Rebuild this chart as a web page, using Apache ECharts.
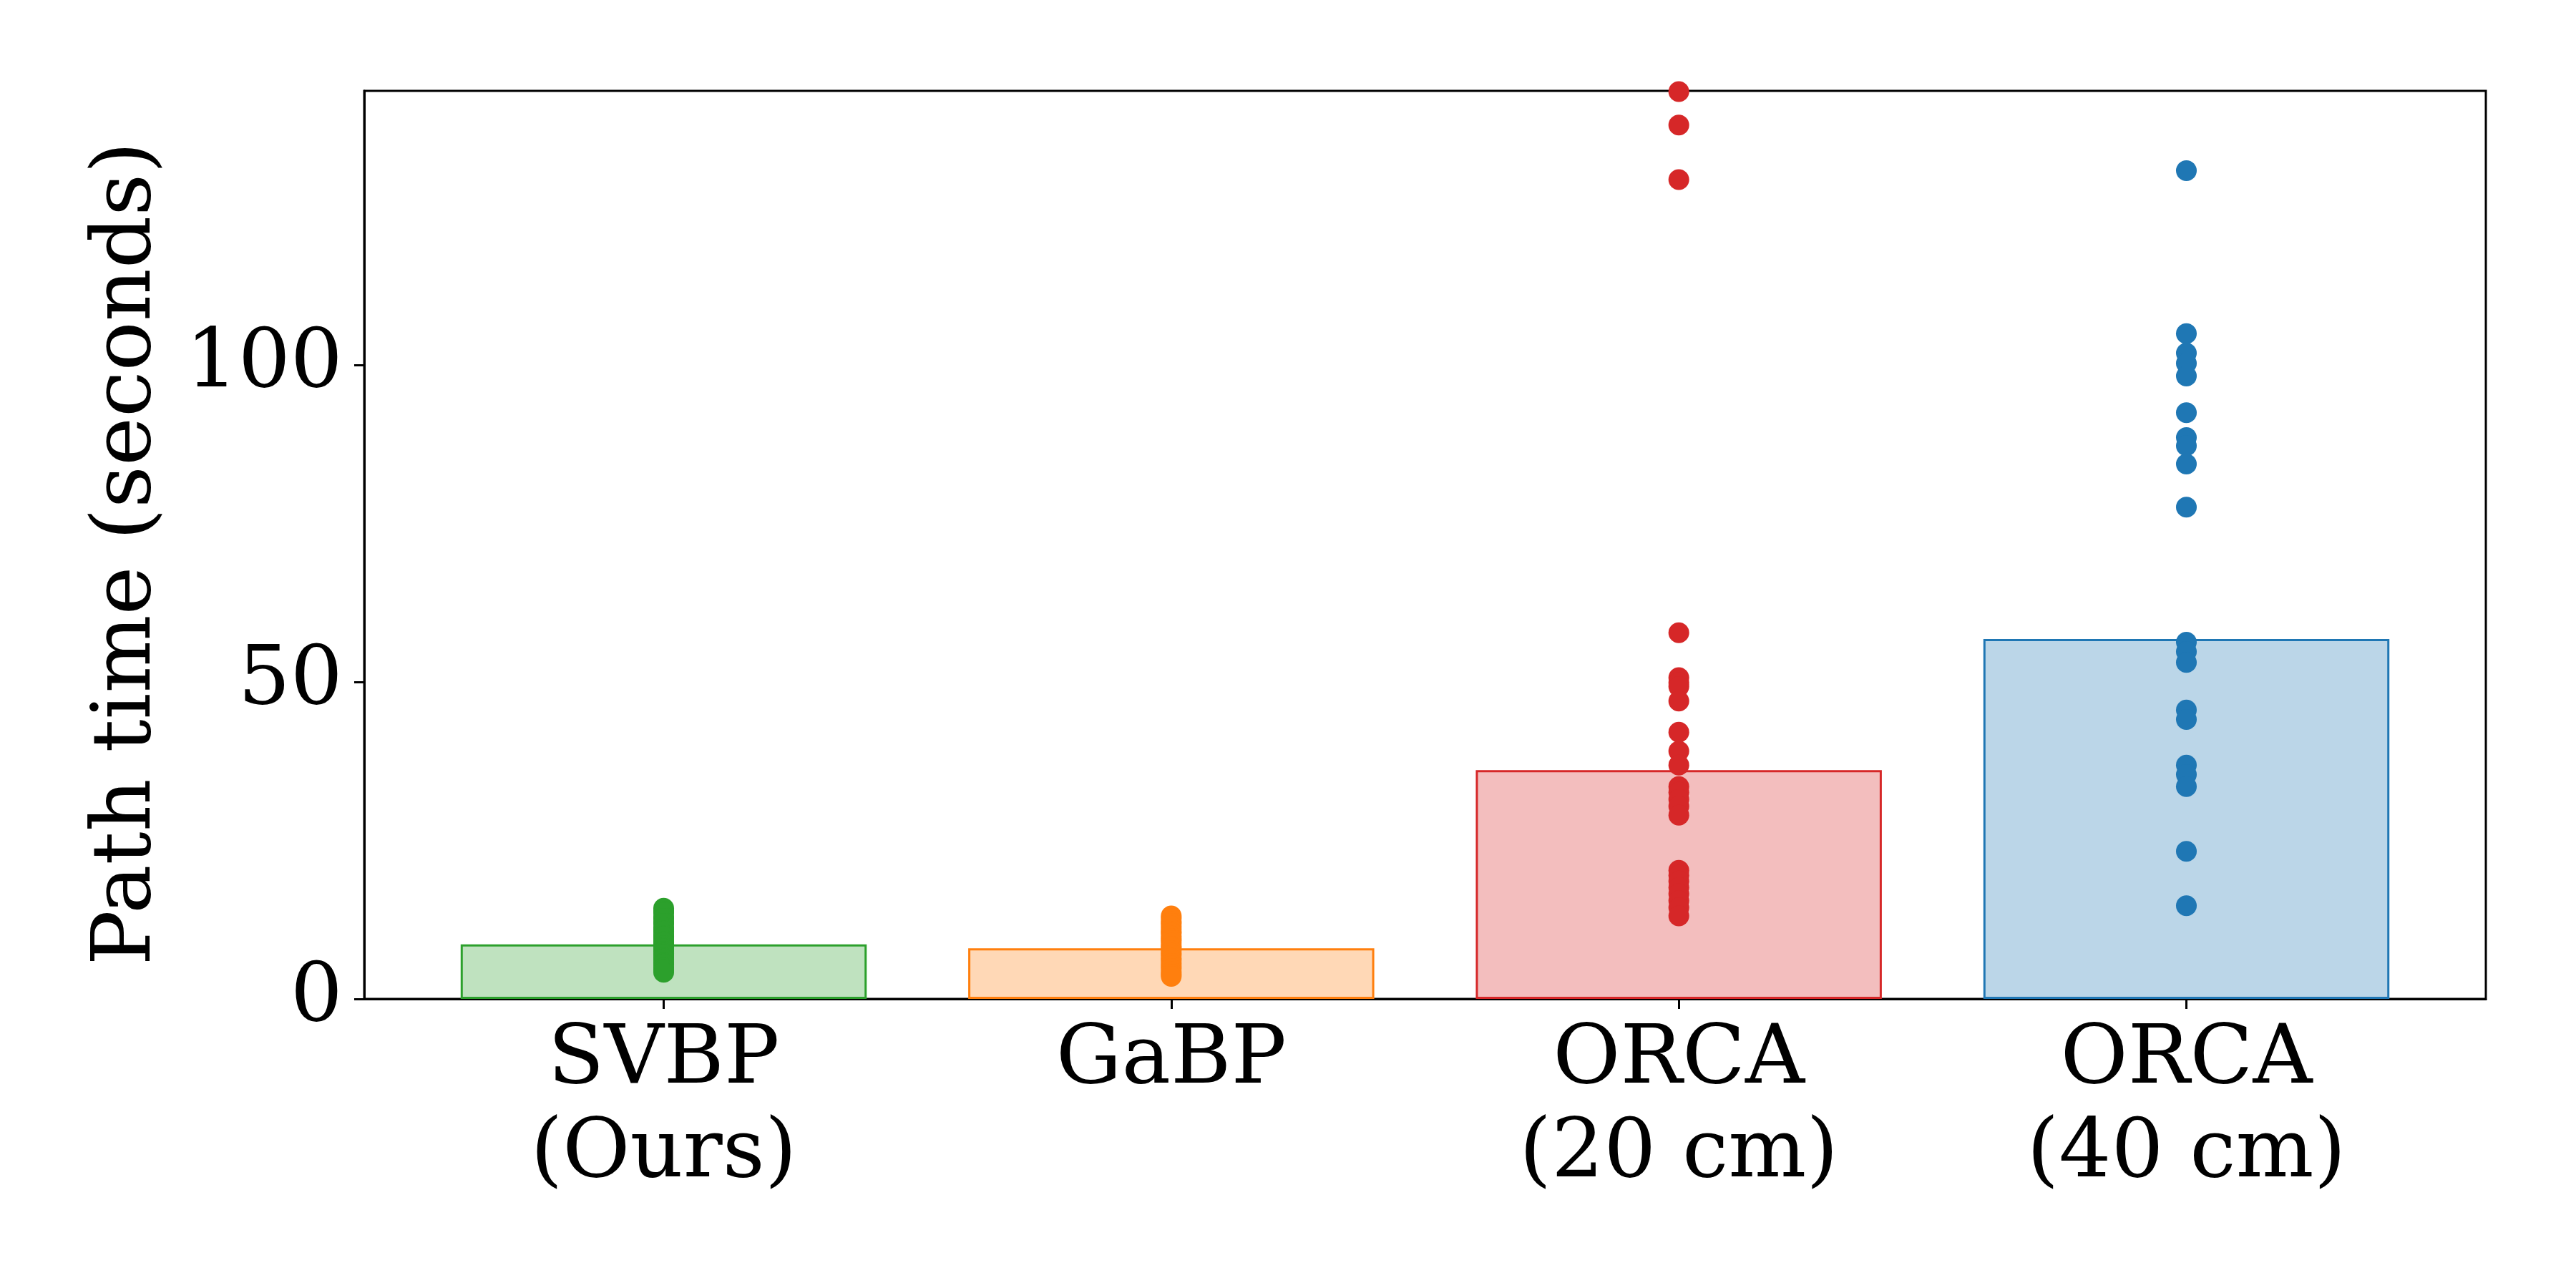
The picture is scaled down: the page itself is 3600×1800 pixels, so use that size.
<!DOCTYPE html>
<html>
<head>
<meta charset="utf-8">
<script src="https://cdn.jsdelivr.net/npm/echarts@6/dist/echarts.min.js"></script>
<style>
  html, body { margin: 0; padding: 0; background: #fff; }
  #chart { width: 3600px; height: 1800px; }
</style>
</head>
<body>
<div id="chart"></div>
<script>
// ---- data ----
const categories = ['SVBP\n(Ours)', 'GaBP', 'ORCA\n(20 cm)', 'ORCA\n(40 cm)'];
const barValues = [8.6, 8.0, 36.1, 56.8];
const svbpTimes = [14.3, 13.8, 13.6, 12.9, 12.7, 12.1, 11.9, 11.3, 11.0, 10.7, 10.2, 9.9, 9.8, 9.3, 9.0, 8.9, 8.4, 8.1, 7.9, 7.5, 7.2, 7.0, 6.5, 6.3, 5.7, 5.5, 4.9, 4.6, 4.2];
const gabpTimes = [13.1, 12.7, 12.2, 11.9, 11.5, 11.0, 10.6, 10.4, 9.9, 9.5, 9.2, 8.8, 8.3, 8.1, 7.6, 7.2, 6.9, 6.4, 6.1, 5.6, 5.2, 4.8, 4.3, 3.9, 3.55];
const orca20Times = [143.2, 137.9, 129.3, 57.8, 50.7, 49.9, 49.3, 47.0, 42.1, 39.1, 36.9, 33.5, 32.6, 31.5, 30.4, 29.0, 20.3, 19.5, 18.6, 17.6, 16.6, 15.5, 14.4, 13.1];
const orca40Times = [130.7, 105.0, 101.9, 100.3, 98.3, 92.5, 88.6, 87.3, 84.4, 77.6, 56.3, 54.8, 53.1, 45.6, 44.1, 36.9, 35.4, 33.5, 23.3, 14.7];
const yTicks = [0, 50, 100];
const xTicks = [0, 1, 2, 3];

const colors = ['#2ca02c', '#ff7f0e', '#d62728', '#1f77b4'];
const fills = ['rgba(44,160,44,0.3)', 'rgba(255,127,14,0.3)', 'rgba(214,39,40,0.3)', 'rgba(31,119,180,0.3)'];
const pointSets = [svbpTimes, gabpTimes, orca20Times, orca40Times];

const FONT = 'DejaVu Serif';
const FS = 115;
const gridLeft = 509, gridRight = 126, gridTop = 127, gridBottom = 404;
const xMin = -0.59, xMax = 3.59;
const chartW = 3600;
const barW = 0.8 * (chartW - gridLeft - gridRight) / (xMax - xMin);

const chart = echarts.init(document.getElementById('chart'), null, { renderer: 'canvas' });

const series = [{
  type: 'bar',
  barWidth: barW,
  z: 1,
  data: barValues.map((v, i) => ({
    value: [i, v],
    itemStyle: { color: fills[i], borderColor: colors[i], borderWidth: 3 }
  }))
}];
pointSets.forEach((arr, i) => {
  series.push({
    type: 'scatter',
    symbol: 'circle',
    symbolSize: 29,
    z: 3,
    itemStyle: { color: colors[i], opacity: 1 },
    data: arr.map(v => [i, v])
  });
});

chart.setOption({
  animation: false,
  backgroundColor: '#fff',
  grid: {
    left: gridLeft, right: gridRight, top: gridTop, bottom: gridBottom,
    show: true, borderColor: '#000', borderWidth: 3, backgroundColor: 'transparent'
  },
  xAxis: {
    type: 'value',
    min: xMin, max: xMax,
    splitLine: { show: false },
    axisLine: { show: true, onZero: false, lineStyle: { color: '#000', width: 3 } },
    axisTick: { show: true, customValues: xTicks, length: 14, lineStyle: { color: '#000', width: 3 } },
    axisLabel: {
      customValues: xTicks,
      formatter: v => categories[Math.round(v)],
      fontFamily: FONT, fontSize: FS, color: '#000', lineHeight: 131, margin: 22
    }
  },
  yAxis: {
    type: 'value',
    min: 0, max: 143.3,
    name: 'Path time (seconds)',
    nameLocation: 'middle',
    nameGap: 272,
    nameRotate: 90,
    nameTextStyle: { fontFamily: FONT, fontSize: FS, color: '#000', padding: [0, 24, 0, 0] },
    splitLine: { show: false },
    axisLine: { show: true, onZero: false, lineStyle: { color: '#000', width: 3 } },
    axisTick: { show: true, customValues: yTicks, length: 14, lineStyle: { color: '#000', width: 3 } },
    axisLabel: {
      customValues: yTicks,
      fontFamily: FONT, fontSize: FS, color: '#000', margin: 30
    }
  },
  series: series
});
</script>
</body>
</html>
